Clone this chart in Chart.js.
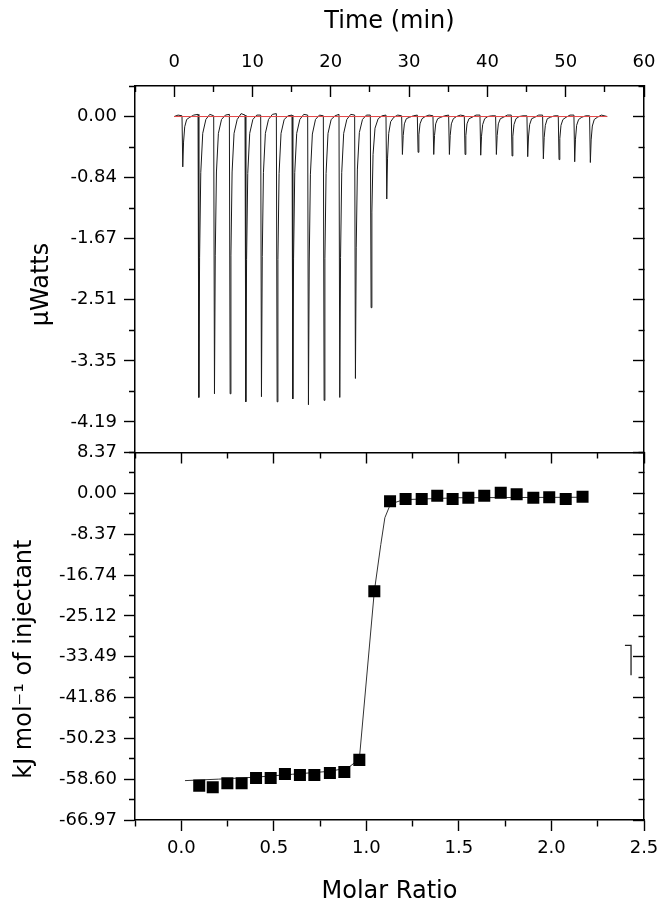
<!DOCTYPE html>
<html><head><meta charset="utf-8">
<script src="https://cdn.jsdelivr.net/npm/chart.js@4"></script>
<style>
html,body{margin:0;padding:0;background:#fff;}
#wrap{position:relative;width:666px;height:907px;overflow:hidden;}
#wrap canvas{position:absolute;left:0;top:0;}
</style></head><body>
<div id="wrap"><canvas id="botChart" width="666" height="907"></canvas><canvas id="topChart" width="666" height="907"></canvas></div>
<script>
// ---------- tick values and labels ----------
const timeTickValues = [0, 10, 20, 30, 40, 50, 60];
const timeTickLabels = ['0', '10', '20', '30', '40', '50', '60'];
const powerTickValues = [0, -0.8372, -1.6744, -2.5116, -3.3488, -4.186];
const powerTickLabels = ['0.00', '-0.84', '-1.67', '-2.51', '-3.35', '-4.19'];
const ratioTickValues = [0, 0.5, 1.0, 1.5, 2.0, 2.5];
const ratioTickLabels = ['0.0', '0.5', '1.0', '1.5', '2.0', '2.5'];
const heatTickValues = [8.372, 0, -8.372, -16.744, -25.116, -33.488, -41.86, -50.232, -58.604, -66.976];
const heatTickLabels = ['8.37', '0.00', '-8.37', '-16.74', '-25.12', '-33.49', '-41.86', '-50.23', '-58.60', '-66.97'];

// ---------- raw thermogram (min, µW) ----------
const thermoTime = [
  0, 0.5,
  1.0, 1.1, 1.2, 1.35, 1.6, 2.0, 2.5,
  3.05, 3.15, 3.25, 3.4, 3.65, 4.05, 4.55,
  5.05, 5.15, 5.25, 5.4, 5.65, 6.05, 6.55,
  7.05, 7.15, 7.25, 7.4, 7.65, 8.05, 8.55,
  9.05, 9.15, 9.25, 9.4, 9.65, 10.05, 10.55,
  11.05, 11.15, 11.25, 11.4, 11.65, 12.05, 12.55,
  13.05, 13.15, 13.25, 13.4, 13.65, 14.05, 14.55,
  15.05, 15.15, 15.25, 15.4, 15.65, 16.05, 16.55,
  17.05, 17.15, 17.25, 17.4, 17.65, 18.05, 18.55,
  19.05, 19.15, 19.25, 19.4, 19.65, 20.05, 20.55,
  21.05, 21.15, 21.25, 21.4, 21.65, 22.05, 22.55,
  23.05, 23.15, 23.25, 23.4, 23.65, 24.05, 24.55,
  25.05, 25.15, 25.25, 25.4, 25.65, 26.05, 26.55,
  27.05, 27.15, 27.25, 27.4, 27.65, 28.05, 28.55,
  29.05, 29.15, 29.25, 29.4, 29.65, 30.05, 30.55,
  31.05, 31.15, 31.25, 31.4, 31.65, 32.05, 32.55,
  33.05, 33.15, 33.25, 33.4, 33.65, 34.05, 34.55,
  35.05, 35.15, 35.25, 35.4, 35.65, 36.05, 36.55,
  37.05, 37.15, 37.25, 37.4, 37.65, 38.05, 38.55,
  39.05, 39.15, 39.25, 39.4, 39.65, 40.05, 40.55,
  41.05, 41.15, 41.25, 41.4, 41.65, 42.05, 42.55,
  43.05, 43.15, 43.25, 43.4, 43.65, 44.05, 44.55,
  45.05, 45.15, 45.25, 45.4, 45.65, 46.05, 46.55,
  47.05, 47.15, 47.25, 47.4, 47.65, 48.05, 48.55,
  49.05, 49.15, 49.25, 49.4, 49.65, 50.05, 50.55,
  51.05, 51.15, 51.25, 51.4, 51.65, 52.05, 52.55,
  53.05, 53.15, 53.25, 53.4, 53.65, 54.05, 54.55,
  55.3
];
const thermoPower = [
  0.00, 0.02,
  0.01, -0.69, -0.35, -0.14, -0.04, -0.01, 0.02,
  0.03, -3.85, -1.93, -0.77, -0.23, -0.04, 0.03,
  0.01, -3.80, -1.90, -0.76, -0.23, -0.04, 0.02,
  0.03, -3.80, -1.90, -0.76, -0.23, -0.04, 0.04,
  0.02, -3.91, -1.96, -0.78, -0.23, -0.04, 0.02,
  0.02, -3.84, -1.92, -0.77, -0.23, -0.04, 0.03,
  0.04, -3.91, -1.96, -0.78, -0.23, -0.04, 0.01,
  0.02, -3.87, -1.94, -0.77, -0.23, -0.04, 0.03,
  0.02, -3.95, -1.98, -0.79, -0.24, -0.04, 0.02,
  0.01, -3.89, -1.95, -0.78, -0.23, -0.04, 0.01,
  0.03, -3.85, -1.93, -0.77, -0.23, -0.04, 0.03,
  0.02, -3.59, -1.80, -0.72, -0.22, -0.04, 0.02,
  0.02, -2.62, -1.31, -0.52, -0.16, -0.03, 0.01,
  0.02, -1.13, -0.57, -0.23, -0.07, -0.01, 0.02,
  0.01, -0.52, -0.26, -0.10, -0.03, -0.01, 0.01,
  0.02, -0.49, -0.25, -0.10, -0.03, 0.00, 0.02,
  0.01, -0.52, -0.26, -0.10, -0.03, -0.01, 0.01,
  0.02, -0.52, -0.26, -0.10, -0.03, 0.00, 0.02,
  0.01, -0.52, -0.26, -0.10, -0.03, -0.01, 0.02,
  0.02, -0.53, -0.27, -0.11, -0.03, 0.00, 0.01,
  0.01, -0.52, -0.26, -0.10, -0.03, -0.01, 0.02,
  0.02, -0.54, -0.27, -0.11, -0.03, 0.00, 0.01,
  0.01, -0.55, -0.28, -0.11, -0.03, -0.01, 0.02,
  0.02, -0.58, -0.29, -0.12, -0.03, -0.01, 0.01,
  0.01, -0.59, -0.30, -0.12, -0.04, -0.01, 0.02,
  0.02, -0.62, -0.31, -0.12, -0.04, -0.01, 0.01,
  0.01, -0.63, -0.32, -0.13, -0.04, -0.01, 0.02,
  0.00
];
// baseline (red)
const baselineTime = [0, 55.3];
const baselinePower = [0, 0];

// ---------- integrated heats ----------
const molarRatio = [0.097, 0.170, 0.249, 0.326, 0.404, 0.483, 0.560, 0.641, 0.719, 0.803, 0.881, 0.962, 1.043,
  1.128, 1.212, 1.299, 1.383, 1.466, 1.551, 1.637, 1.726, 1.812, 1.902, 1.988, 2.077, 2.168];
const heatValues = [-59.93, -60.28, -59.46, -59.46, -58.35, -58.35, -57.53, -57.73, -57.73, -57.32, -57.12, -54.65, -20.07,
  -1.64, -1.17, -1.17, -0.49, -1.17, -0.90, -0.49, 0.12, -0.21, -0.90, -0.82, -1.17, -0.70];
// fitted curve
const fitRatio = [0.02, 0.2, 0.4, 0.6, 0.8, 0.9, 0.962, 1.043, 1.078, 1.10, 1.13, 1.2, 1.5, 2.19];
const fitHeat = [-58.9, -58.6, -58.2, -57.6, -57.0, -56.3, -54.5, -20.1, -10.5, -5.0, -2.2, -1.3, -0.9, -0.8];
// stray mark at right edge of the lower panel
const strayRatio = [2.397, 2.43, 2.43];
const strayHeat = [-31.17, -31.17, -37.3];

// ---------- helpers ----------
const FONT = 'DejaVu Sans';
function tickSet(majors, step, min, max) {
  const all = majors.map(v => ({ value: v, major: true }));
  majors.forEach(v => {
    [v - step / 2, v + step / 2].forEach(m => {
      if (m >= min - 1e-6 && m <= max + 1e-6 && !all.some(t => Math.abs(t.value - m) < 1e-6)) all.push({ value: m, major: false });
    });
  });
  return all.sort((a, b) => a.value - b.value);
}
function labelFor(majors, labels) {
  return function (value, index, ticks) {
    if (!ticks[index] || !ticks[index].major) return '';
    const k = majors.findIndex(m => Math.abs(m - value) < 1e-6);
    return k >= 0 ? labels[k] : '';
  };
}
// minor-tick dash: draw only the segment next to the axis line
const DASH_FROM_AXIS = [6, 100];
const DASH_TO_AXIS = [0, 5, 6, 100];
function axis(o) {
  const ticks = o.ticks;
  return {
    type: 'linear', position: o.position, min: o.min, max: o.max,
    afterBuildTicks: s => { s.ticks = ticks.map(t => ({ value: t.value, major: t.major })); },
    afterFit: s => {
      if (o.width !== undefined) s.width = o.width;
      if (o.height !== undefined) s.height = o.height;
      s.paddingLeft = 0; s.paddingRight = 0; s.paddingTop = 0; s.paddingBottom = 0;
    },
    border: { display: true, color: '#000', width: 1.5 },
    grid: {
      display: true, drawOnChartArea: false, drawTicks: true,
      tickLength: o.tickLength, tickWidth: 1.4, tickColor: '#000',
      tickBorderDash: c => (c.tick && !c.tick.major) ? o.minorDash : []
    },
    ticks: {
      display: !!o.labels, autoSkip: false, maxRotation: 0, minRotation: 0,
      padding: o.padding || 0, color: '#000', font: { family: FONT, size: 18 },
      callback: o.labels ? labelFor(o.majors, o.labels) : () => ''
    },
    title: o.title ? { display: true, text: o.title, color: '#000', font: { family: FONT, size: 24 }, padding: o.titlePadding } : { display: false }
  };
}

const timeTicks = tickSet(timeTickValues, 10, -5, 60);
const powerTicks = tickSet(powerTickValues, 0.8372, -4.6046, 0.4186);
const ratioTicks = tickSet(ratioTickValues, 0.5, -0.25, 2.5);
const heatTicks = tickSet(heatTickValues, 8.372, -66.976, 8.372);

const common = {
  responsive: false, animation: false, devicePixelRatio: 1,
  plugins: { legend: { display: false }, tooltip: { enabled: false } },
  elements: { point: { radius: 0 } }
};

// ---------- upper panel ----------
new Chart(document.getElementById('topChart'), {
  type: 'scatter',
  data: {
    datasets: [
      { label: 'baseline', data: baselineTime.map((t, i) => ({ x: t, y: baselinePower[i] })), showLine: true, borderColor: 'rgb(228,70,70)', borderWidth: 1, pointRadius: 0 },
      { label: 'raw', data: thermoTime.map((t, i) => ({ x: t, y: thermoPower[i] })), showLine: true, borderColor: '#1a1a1a', borderWidth: 1, pointRadius: 0, tension: 0 }
    ]
  },
  options: Object.assign({}, common, {
    layout: { padding: { top: 0, left: 0, right: 0, bottom: 454.5 } },
    scales: {
      x: axis({ position: 'top', min: -5, max: 60, ticks: timeTicks, majors: timeTickValues, labels: timeTickLabels, tickLength: -11, minorDash: DASH_TO_AXIS, padding: 24, height: 86, title: 'Time (min)', titlePadding: { top: 7, bottom: 0 } }),
      y: axis({ position: 'left', min: -4.6046, max: 0.4186, ticks: powerTicks, majors: powerTickValues, labels: powerTickLabels, tickLength: 11, minorDash: DASH_TO_AXIS, padding: 7, width: 135, title: 'µWatts\u00a0\u00a0\u00a0\u00a0', titlePadding: { top: 27, bottom: 0 } }),
      yR: axis({ position: 'right', min: -4.6046, max: 0.4186, ticks: powerTicks, tickLength: -11, minorDash: DASH_FROM_AXIS, width: 22 })
    }
  })
});

// ---------- lower panel ----------
new Chart(document.getElementById('botChart'), {
  type: 'scatter',
  data: {
    datasets: [
      { label: 'heats', data: molarRatio.map((r, i) => ({ x: r, y: heatValues[i] })), showLine: false, pointStyle: 'rect', pointRadius: 8.5, backgroundColor: '#000', borderWidth: 0 },
      { label: 'fit', data: fitRatio.map((r, i) => ({ x: r, y: fitHeat[i] })), showLine: true, borderColor: '#333', borderWidth: 1, pointRadius: 0 },
      { label: 'stray', data: strayRatio.map((r, i) => ({ x: r, y: strayHeat[i] })), showLine: true, borderColor: '#222', borderWidth: 1.3, pointRadius: 0 }
    ]
  },
  options: Object.assign({}, common, {
    layout: { padding: { top: 442.5, left: 0, right: 0, bottom: 0 } },
    scales: {
      x: axis({ position: 'bottom', min: -0.25, max: 2.5, ticks: ratioTicks, majors: ratioTickValues, labels: ratioTickLabels, tickLength: 11, minorDash: DASH_FROM_AXIS, padding: 6.5, height: 87, title: 'Molar Ratio', titlePadding: { top: 0, bottom: 1 } }),
      xT: axis({ position: 'top', min: -0.25, max: 2.5, ticks: ratioTicks, tickLength: -11, minorDash: DASH_TO_AXIS, height: 10 }),
      y: axis({ position: 'left', min: -66.976, max: 8.372, ticks: heatTicks, majors: heatTickValues, labels: heatTickLabels, tickLength: 11, minorDash: DASH_TO_AXIS, padding: 7, width: 135, title: 'kJ mol\u207b\u00b9 of injectant\u00a0\u00a0\u00a0\u00a0\u00a0\u00a0', titlePadding: { top: 10, bottom: 0 } }),
      yR: axis({ position: 'right', min: -66.976, max: 8.372, ticks: heatTicks, tickLength: -11, minorDash: DASH_FROM_AXIS, width: 22 })
    }
  })
});
</script>
</body></html>
